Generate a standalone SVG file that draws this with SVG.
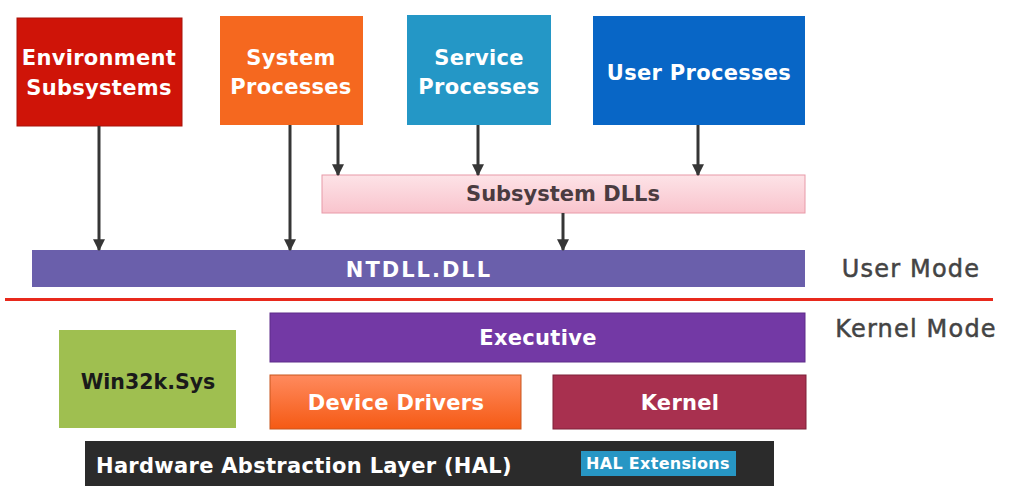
<svg xmlns="http://www.w3.org/2000/svg" width="1012" height="498" viewBox="0 0 1012 498">
<defs>
<linearGradient id="gPink" x1="0" y1="0" x2="0" y2="1"><stop offset="0" stop-color="#fde3e7"/><stop offset="1" stop-color="#f9c4cd"/></linearGradient>
<linearGradient id="gOrange" x1="0" y1="0" x2="0" y2="1"><stop offset="0" stop-color="#ff8a5e"/><stop offset="1" stop-color="#f55a14"/></linearGradient>
<marker id="arr" viewBox="0 0 10 10" refX="9" refY="5" markerWidth="4" markerHeight="4" orient="auto" markerUnits="strokeWidth"><path d="M0,0 L10,5 L0,10 z" fill="#363636"/></marker>
</defs>
<style>
text{font-family:"DejaVu Sans","Open Sans",sans-serif;font-weight:bold;text-anchor:middle}
.w{fill:#ffffff;font-size:21px;letter-spacing:0.3px}
.m{fill:#444444;stroke:#444444;stroke-width:0.5px;font-size:24px;font-weight:normal;letter-spacing:1.2px}
.c{stroke:#363636;stroke-width:3;fill:none;marker-end:url(#arr)}
</style>
<rect width="1012" height="498" fill="#ffffff"/>
<g id="env"><rect x="17" y="18" width="165" height="108" fill="#cf1408" stroke="#a8120a" stroke-width="1"/><text class="w" x="99" y="65">Environment</text><text class="w" x="99" y="95">Subsystems</text></g>
<g id="sysproc"><rect x="220" y="16" width="143" height="109" fill="#f5681f"/><text class="w" x="291" y="65">System</text><text class="w" x="291" y="94">Processes</text></g>
<g id="svcproc"><rect x="407" y="15" width="144" height="110" fill="#2497c6"/><text class="w" x="479" y="65">Service</text><text class="w" x="479" y="94">Processes</text></g>
<g id="userproc"><rect x="593" y="16" width="212" height="109" fill="#0866c6"/><text class="w" x="699" y="80">User Processes</text></g>
<g id="subdlls"><rect x="322" y="175" width="483" height="38" fill="url(#gPink)" stroke="#e89aa8" stroke-width="1"/><text x="563" y="201" style="fill:#4a3b40;font-size:21px">Subsystem DLLs</text></g>
<g id="ntdll"><rect x="32" y="250" width="773" height="37" fill="#6a5fab"/><text class="w" x="419" y="277" style="letter-spacing:2px">NTDLL.DLL</text></g>
<g id="divider"><rect x="5" y="298" width="988" height="3" fill="#e8291c"/><text class="m" x="911" y="277">User Mode</text><text class="m" x="916" y="337">Kernel Mode</text></g>
<g id="executive"><rect x="270" y="313" width="535" height="49" fill="#7339a5" stroke="#5e2d8a" stroke-width="1"/><text class="w" x="538" y="345">Executive</text></g>
<g id="win32k"><rect x="59" y="330" width="177" height="98" fill="#9fbf50"/><text x="148" y="389" style="fill:#1a1a1a;font-size:20.5px">Win32k.Sys</text></g>
<g id="drivers"><rect x="270" y="375" width="251" height="54" fill="url(#gOrange)" stroke="#c8561e" stroke-width="1"/><text class="w" x="396" y="410">Device Drivers</text></g>
<g id="kernel"><rect x="553" y="375" width="253" height="54" fill="#a8304f" stroke="#7e2038" stroke-width="1"/><text class="w" x="680" y="410">Kernel</text></g>
<g id="hal"><rect x="85" y="441" width="689" height="45" fill="#2b2b2b"/><text class="w" x="96" y="473" style="text-anchor:start">Hardware Abstraction Layer (HAL)</text></g>
<g id="halext"><rect x="581" y="451" width="155" height="25" fill="#2796c4"/><text class="w" x="658" y="469" style="font-size:16px">HAL Extensions</text></g>
<g id="connectors">
<line class="c" x1="99" y1="126" x2="99" y2="250"/>
<line class="c" x1="290" y1="125" x2="290" y2="250"/>
<line class="c" x1="338" y1="125" x2="338" y2="175"/>
<line class="c" x1="478" y1="125" x2="478" y2="175"/>
<line class="c" x1="698" y1="125" x2="698" y2="175"/>
<line class="c" x1="563" y1="213" x2="563" y2="250"/>
</g>
</svg>
